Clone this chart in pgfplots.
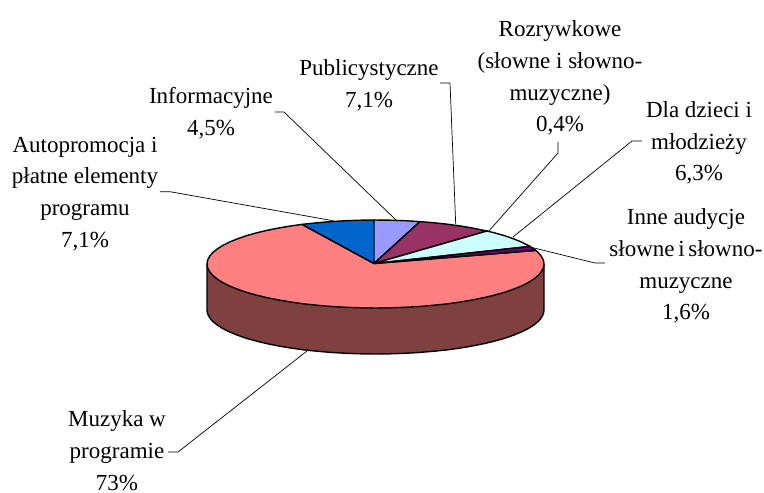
\documentclass[border=0pt]{standalone}
\usepackage{pgfplots}
\pgfplotsset{compat=1.18}
\usepackage{fontspec}
\setmainfont{Liberation Serif}
\definecolor{sliceInfo}{HTML}{9999FF}
\definecolor{slicePubl}{HTML}{993366}
\definecolor{sliceDzieci}{HTML}{CCFFFF}
\definecolor{sliceInne}{HTML}{660066}
\definecolor{sliceMuz}{HTML}{FF8080}
\definecolor{sideMuz}{HTML}{7F4040}
\definecolor{sliceAuto}{HTML}{0066CC}
\begin{document}
\begin{tikzpicture}
\begin{axis}[
  hide axis, scale only axis, clip=false,
  width=764pt, height=493pt,
  xmin=0, xmax=764, ymin=0, ymax=493, y dir=reverse,
  every axis plot/.append style={line width=1.4pt, draw=black, line join=round},
]
% side wall of the pie
\addplot[fill=sideMuz] coordinates {(207,264)(207,310)(207.6,313.8)(209.6,317.6)(212.7,321.4)(217.2,325)(222.8,328.6)(229.6,332)(237.5,335.2)(246.4,338.3)(256.4,341.1)(267.2,343.7)(278.8,346)(291.2,348.1)(304.3,349.9)(317.9,351.3)(331.9,352.5)(346.2,353.3)(360.8,353.8)(375.5,354)(390.2,353.8)(404.8,353.3)(419.1,352.5)(433.1,351.3)(446.7,349.9)(459.8,348.1)(472.2,346)(483.8,343.7)(494.6,341.1)(504.6,338.3)(513.5,335.2)(521.4,332)(528.2,328.6)(533.8,325)(538.3,321.4)(541.4,317.6)(543.4,313.8)(544,310)(544,264)(207,264)};
% Muzyka w programie 73%
\addplot[fill=sliceMuz] coordinates {(374,263.5)(535.8,250.4)(538.3,252.6)(541.4,256.4)(543.4,260.2)(544,264)(543.4,267.8)(541.4,271.6)(538.3,275.4)(533.8,279)(528.2,282.6)(521.4,286)(513.5,289.2)(504.6,292.3)(494.6,295.1)(483.8,297.7)(472.2,300)(459.8,302.1)(446.7,303.9)(433.1,305.3)(419.1,306.5)(404.8,307.3)(390.2,307.8)(375.5,308)(360.8,307.8)(346.2,307.3)(331.9,306.5)(317.9,305.3)(304.3,303.9)(291.2,302.1)(278.8,300)(267.2,297.7)(256.4,295.1)(246.4,292.3)(237.5,289.2)(229.6,286)(222.8,282.6)(217.2,279)(212.7,275.4)(209.6,271.6)(207.6,267.8)(207,264)(207.6,260.2)(209.6,256.4)(212.7,252.6)(217.2,249)(222.8,245.4)(229.6,242)(237.5,238.8)(246.4,235.7)(256.4,232.9)(267.2,230.3)(278.8,228)(291.2,225.9)(302,224.4)(374,263.5)};
% Autopromocja 7,1%
\addplot[fill=sliceAuto] coordinates {(374,263.5)(302,224.4)(304.3,224.1)(317.9,222.7)(331.9,221.5)(346.2,220.7)(360.8,220.2)(374,220)(374,263.5)};
% Informacyjne 4,5%
\addplot[fill=sliceInfo] coordinates {(374,263.5)(374,220)(390.2,220.2)(404.8,220.7)(420,221.6)(374,263.5)};
% Publicystyczne 7,1%
\addplot[fill=slicePubl] coordinates {(374,263.5)(420,221.6)(433.1,222.7)(446.7,224.1)(459.8,225.9)(472.2,228)(487,231)(374,263.5)};
% Dla dzieci i mlodziezy 6,3%
\addplot[fill=sliceDzieci] coordinates {(374,263.5)(487,231)(494.6,232.9)(504.6,235.7)(513.5,238.8)(521.4,242)(530,246.4)(374,263.5)};
% Inne audycje 1,6%
\addplot[fill=sliceInne] coordinates {(374,263.5)(530,246.4)(533.8,249)(535.8,250.4)(374,263.5)};
% leader lines
\addplot[line width=0.7pt] coordinates {(440,83)(450,83)(455.7,224)};
\addplot[line width=0.7pt] coordinates {(275,112)(284,112)(397,221)};
\addplot[line width=0.7pt] coordinates {(558,142)(558,153)(488,232)};
\addplot[line width=0.7pt] coordinates {(642,141)(632,141)(513,237)};
\addplot[line width=0.7pt] coordinates {(530,247)(595,263)(605,263)};
\addplot[line width=0.7pt] coordinates {(160,191.7)(170,191.7)(333,220.7)};
\addplot[line width=0.7pt] coordinates {(168,452)(178,452)(307,351)};
% labels
\begin{scope}[every node/.style={align=center, inner sep=0pt, font=\fontsize{23}{31.7}\selectfont, text=black}]
\node at (axis cs:560,78) {Rozrywkowe\\(słowne i słowno-\\muzyczne)\\0,4\%};
\node at (axis cs:369,85) {Publicystyczne\\7,1\%};
\node at (axis cs:211,113) {Informacyjne\\4,5\%};
\node at (axis cs:85,194) {Autopromocja i\\płatne elementy\\programu\\7,1\%};
\node at (axis cs:699,143) {Dla dzieci i\\młodzieży\\6,3\%};
\node at (axis cs:686,266) {Inne audycje\\{\spaceskip=0.16em słowne i słowno-}\\muzyczne\\1,6\%};
\node at (axis cs:117,450.5) {Muzyka w\\programie\\73\%};
\end{scope}
\coordinate (bbA) at (axis cs:0,493);
\coordinate (bbB) at (axis cs:764,0);
\end{axis}
\pgfresetboundingbox
\path[use as bounding box] (bbA) rectangle (bbB);
\end{tikzpicture}
\end{document}
